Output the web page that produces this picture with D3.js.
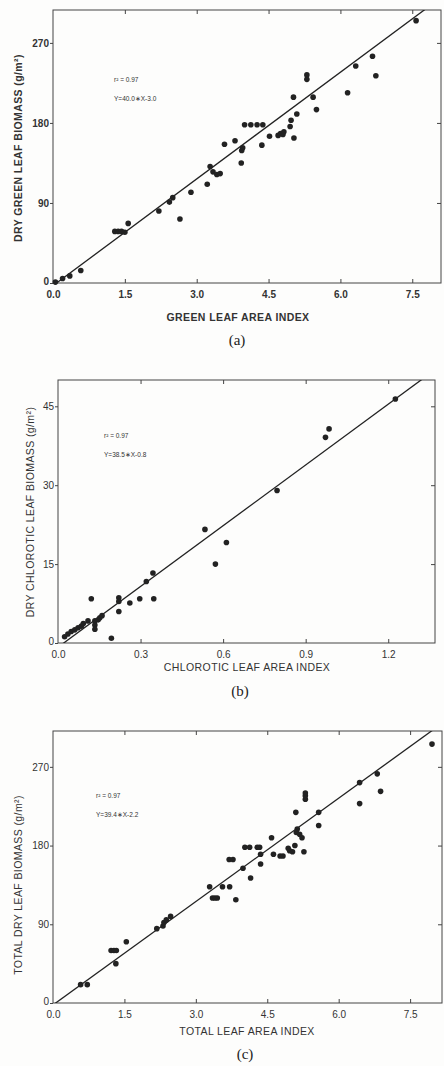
<!DOCTYPE html>
<html>
<head>
<meta charset="utf-8">
<script src="https://cdn.jsdelivr.net/npm/d3@7"></script>
<style>
  body { margin: 0; background: #fdfdfc; }
  svg { display: block; }
</style>
</head>
<body>
<div id="chart"></div>
<script>
// (a) green leaf
var greenLai = [0.05,0.2,0.35,0.58,1.29,1.36,1.43,1.5,1.57,2.21,2.43,2.5,2.65,2.88,3.22,3.28,3.34,3.42,3.49,3.58,3.8,3.93,3.94,3.96,4.0,4.13,4.26,4.38,4.36,4.52,4.7,4.75,4.8,4.82,4.95,4.97,5.02,5.03,5.09,5.3,5.3,5.43,5.5,6.15,6.32,6.67,6.74,7.58];
var greenBiomass = [1,5,8,14,58,58,58,57,67,81,91,96,72,102,111,131,125,122,123,156,160,135,149,152,178,178,178,178,155,165,166,168,167,170,176,183,209,163,190,229,234,209,195,214,244,255,233,295];

// (b) chlorotic leaf
var chlorLai = [0.024,0.036,0.048,0.061,0.073,0.085,0.092,0.109,0.121,0.134,0.134,0.134,0.146,0.152,0.16,0.194,0.221,0.221,0.221,0.261,0.297,0.321,0.345,0.348,0.534,0.572,0.612,0.796,0.972,0.985,1.226];
var chlorBiomass = [1.2,1.7,2.2,2.5,2.9,3.2,3.7,4.2,8.4,4.2,3.4,2.6,4.4,4.8,5.2,0.9,8.6,7.9,6.0,7.6,8.4,11.7,13.3,8.4,21.6,15.0,19.1,29.0,39.1,40.7,46.4];

// (c) total leaf
var totalLai = [0.58,0.72,1.22,1.28,1.33,1.32,1.54,2.18,2.31,2.33,2.38,2.47,3.29,3.35,3.4,3.45,3.56,3.71,3.84,3.7,3.78,3.99,4.15,4.03,4.13,4.29,4.34,4.36,4.36,4.59,4.63,4.77,4.83,4.94,4.97,5.03,5.08,5.27,5.1,5.13,5.11,5.18,5.23,5.3,5.3,5.3,5.58,5.58,6.44,6.44,6.81,6.88,7.96];
var totalBiomass = [21,21,60,60,60,45,70,85,88,92,95,99,133,120,120,120,133,133,118,164,164,154,143,178,178,178,178,170,159,189,170,168,168,177,174,173,180,173,218,199,195,193,189,233,237,240,218,203,252,228,262,242,296];

var greenTicksX = [0, 1.5, 3.0, 4.5, 6.0, 7.5];
var greenTicksY = [0, 90, 180, 270];
var chlorTicksX = [0, 0.3, 0.6, 0.9, 1.2];
var chlorTicksY = [0, 15, 30, 45];
var totalTicksX = [0, 1.5, 3.0, 4.5, 6.0, 7.5];
var totalTicksY = [0, 90, 180, 270];

var fits = [
  {r2: "0.97", slope: 40.0, intercept: -3.0, eq: "Y=40.0\u2217X-3.0"},
  {r2: "0.97", slope: 38.5, intercept: -0.8, eq: "Y=38.5\u2217X-0.8"},
  {r2: "0.97", slope: 39.4, intercept: -2.2, eq: "Y=39.4\u2217X-2.2"}
];

var svg = d3.select("#chart").append("svg")
    .attr("width", 444)
    .attr("height", 1066);

var ink = "#222";

function panel(p) {
  var x = d3.scaleLinear().domain(p.xDomain).range([p.left, p.right]);
  var y = d3.scaleLinear().domain(p.yDomain).range([p.bottom, p.top]);
  var g = svg.append("g").attr("class", "panel");
  var font = "Liberation Sans, Arial, sans-serif";
  var weight = p.bold ? 700 : 400;

  var clipId = "clip" + p.id;
  svg.append("clipPath").attr("id", clipId)
    .append("rect")
      .attr("x", p.left).attr("y", p.top)
      .attr("width", p.right - p.left).attr("height", p.bottom - p.top);

  // box
  g.append("rect")
    .attr("x", p.left).attr("y", p.top)
    .attr("width", p.right - p.left).attr("height", p.bottom - p.top)
    .attr("fill", "none").attr("stroke", "#444").attr("stroke-width", 1);

  var bottomAxis = g.append("g")
    .attr("transform", "translate(0," + p.bottom + ")")
    .call(d3.axisBottom(x).tickValues(p.ticksX).tickSize(0).tickPadding(8)
      .tickFormat(d3.format(p.xFmt)));
  var leftAxis = g.append("g")
    .attr("transform", "translate(" + p.left + ",0)")
    .call(d3.axisLeft(y).tickValues(p.ticksY).tickSize(3).tickPadding(1)
      .tickFormat(d3.format("d")));
  g.append("g")
    .attr("transform", "translate(0," + p.top + ")")
    .call(d3.axisBottom(x).tickValues(p.ticksX.slice(1)).tickSize(4).tickFormat(""));
  g.append("g")
    .attr("transform", "translate(" + p.right + ",0)")
    .call(d3.axisLeft(y).tickValues(p.ticksY.slice(1)).tickSize(4).tickFormat(""));
  g.append("g")
    .attr("transform", "translate(0," + p.bottom + ")")
    .call(d3.axisTop(x).tickValues(p.ticksX.slice(1)).tickSize(4).tickFormat(""));

  g.selectAll(".domain").remove();
  g.selectAll(".tick line").attr("stroke", "#444");
  g.selectAll(".tick text")
    .attr("fill", "#333")
    .style("font-family", font)
    .style("font-size", "10px")
    .style("font-weight", weight);
  leftAxis.selectAll(".tick text").attr("dy", "0.32em");
  // lift the zero label a little so it clears the x labels
  leftAxis.selectAll(".tick text")
    .filter(function(d) { return d === 0; })
    .attr("dy", "0.1em");

  // fit line
  var xs = [p.xDomain[0], p.xDomain[1]];
  g.append("line")
    .attr("clip-path", "url(#" + clipId + ")")
    .attr("x1", x(xs[0])).attr("y1", y(p.fit.slope * xs[0] + p.fit.intercept))
    .attr("x2", x(xs[1])).attr("y2", y(p.fit.slope * xs[1] + p.fit.intercept))
    .attr("stroke", ink).attr("stroke-width", 1.3);

  // points
  g.selectAll("circle.pt")
    .data(d3.zip(p.xs, p.ys))
    .enter().append("circle")
      .attr("class", "pt")
      .attr("cx", function(d) { return x(d[0]); })
      .attr("cy", function(d) { return y(d[1]); })
      .attr("r", 2.8)
      .attr("fill", ink);

  // annotation
  g.append("text")
    .attr("x", p.noteX).attr("y", p.noteY)
    .style("font-family", font).style("font-size", "6.5px").attr("fill", "#333")
    .text("r\u00b2 = " + p.fit.r2);
  g.append("text")
    .attr("x", p.noteX).attr("y", p.noteY + 19)
    .style("font-family", font).style("font-size", "6.5px").attr("fill", "#333")
    .text(p.fit.eq);

  // axis titles
  g.append("text")
    .attr("x", p.xLabelX).attr("y", p.xLabelY)
    .attr("text-anchor", "middle")
    .style("font-family", font).style("font-size", "10.5px")
    .style("font-weight", weight).style("letter-spacing", "0.4px")
    .attr("fill", "#333")
    .text(p.xLabel);
  g.append("text")
    .attr("transform", "translate(" + p.yLabelX + "," + p.yLabelY + ") rotate(-90)")
    .attr("text-anchor", "middle")
    .style("font-family", font).style("font-size", "10.5px")
    .style("font-weight", weight).style("letter-spacing", "0.4px")
    .attr("fill", "#333")
    .text(p.yLabel);

  // caption
  g.append("text")
    .attr("x", p.capX).attr("y", p.capY)
    .attr("text-anchor", "middle")
    .style("font-family", "Liberation Serif, DejaVu Serif, serif")
    .style("font-size", "15px")
    .attr("fill", "#222")
    .text(p.caption);
}

panel({
  id: "a", xs: greenLai, ys: greenBiomass, fit: fits[0], bold: true,
  xDomain: [0, 8.1], yDomain: [0, 307],
  left: 53, right: 441, top: 10, bottom: 283,
  ticksX: greenTicksX, ticksY: greenTicksY, xFmt: ".1f",
  noteX: 114, noteY: 82,
  xLabel: "GREEN LEAF AREA INDEX", xLabelX: 238, xLabelY: 321,
  yLabel: "DRY GREEN LEAF BIOMASS (g/m\u00b2)", yLabelX: 22, yLabelY: 148,
  caption: "(a)", capX: 237, capY: 345
});

panel({
  id: "b", xs: chlorLai, ys: chlorBiomass, fit: fits[1], bold: false,
  xDomain: [0, 1.37], yDomain: [0, 50],
  left: 58, right: 435, top: 380, bottom: 643,
  ticksX: chlorTicksX, ticksY: chlorTicksY, xFmt: ".1f",
  noteX: 104, noteY: 438,
  xLabel: "CHLOROTIC LEAF AREA INDEX", xLabelX: 247, xLabelY: 671,
  yLabel: "DRY CHLOROTIC LEAF BIOMASS (g/m\u00b2)", yLabelX: 34, yLabelY: 512,
  caption: "(b)", capX: 240, capY: 696
});

panel({
  id: "c", xs: totalLai, ys: totalBiomass, fit: fits[2], bold: false,
  xDomain: [0, 8.17], yDomain: [0, 311],
  left: 53, right: 442, top: 731, bottom: 1003,
  ticksX: totalTicksX, ticksY: totalTicksY, xFmt: ".1f",
  noteX: 96, noteY: 798,
  xLabel: "TOTAL LEAF AREA INDEX", xLabelX: 247, xLabelY: 1035,
  yLabel: "TOTAL DRY LEAF BIOMASS (g/m\u00b2)", yLabelX: 22, yLabelY: 885,
  caption: "(c)", capX: 245, capY: 1059
});
</script>
</body>
</html>
